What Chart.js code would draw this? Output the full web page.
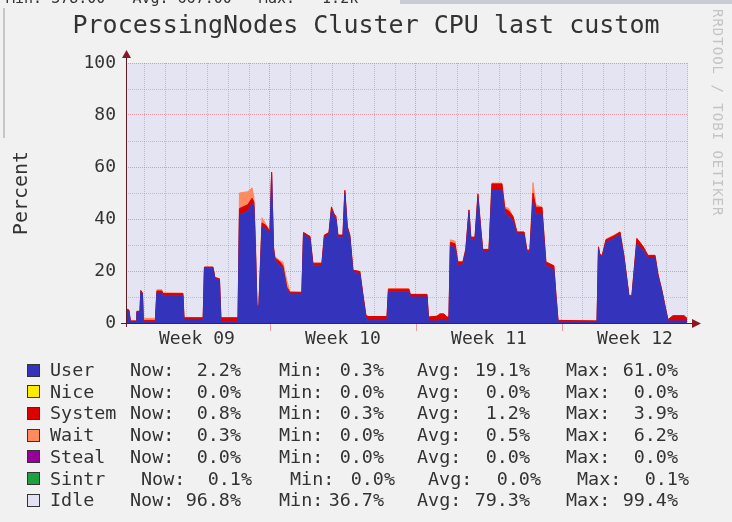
<!DOCTYPE html>
<html>
<head>
<meta charset="utf-8">
<script src="https://cdn.jsdelivr.net/npm/chart.js@4.4.0/dist/chart.umd.min.js"></script>
<style>
html, body { margin: 0; padding: 0; background: #f1f1f1; }
#wrap { position: relative; width: 732px; height: 522px; overflow: hidden; background: #f1f1f1; }
#wrap canvas { position: absolute; left: 0; top: 0; }
.mono { position: absolute; font-family: "DejaVu Sans Mono", monospace; color: #333; white-space: pre; }
.row { font-size: 18.4px; line-height: 22px; height: 22px; }
.stat { display: flex; justify-content: space-between; }
.box { position: absolute; width: 11px; height: 11px; border: 1px solid #333; }
#topstrip { font-size: 15px; top: -11px; line-height: 18px; }
#graybar { position: absolute; left: 400px; top: 0; width: 332px; height: 4px; background: #c9ccd5; }
#frame { position: absolute; left: 3px; top: 8px; width: 2px; height: 130px; background: #c6c6c6; }
#mark { position: absolute; left: 710px; top: 9px; writing-mode: vertical-rl; font-family: "DejaVu Sans Mono", monospace;
        font-size: 14px; letter-spacing: 1px; color: #c4c4c4; white-space: pre; }
</style>
</head>
<body>
<div id="wrap">
  <canvas id="cpu" width="732" height="522"></canvas>
  <div id="graybar"></div>
  <div id="frame"></div>
  <div id="mark">RRDTOOL / TOBI OETIKER</div>
  <div id="legend"></div>
</div>
<script>
// time in days since start of Week 09
const days = [0.10, 0.24, 0.31, 0.58, 0.62, 0.77, 0.81, 0.89, 0.93, 1.51,
  1.58, 1.82, 1.87, 2.83, 2.88, 3.80, 3.86, 4.27, 4.36, 4.58,
  4.65, 5.47, 5.54, 5.94, 6.14, 6.23, 6.30, 6.38, 6.47, 6.62,
  6.81, 7.00, 7.08, 7.17, 7.24, 7.48, 7.62, 7.81, 7.96, 8.53,
  8.61, 8.92, 9.06, 9.49, 9.61, 9.83, 9.95, 10.07, 10.16, 10.26,
  10.50, 10.59, 10.71, 10.83, 10.98, 11.31, 11.46, 11.60, 11.70, 12.61,
  12.68, 13.66, 13.73, 14.53, 14.60, 15.00, 15.15, 15.34, 15.48, 15.58,
  15.65, 15.87, 16.01, 16.25, 16.39, 16.54, 16.63, 16.83, 16.97, 17.11,
  17.20, 17.50, 17.64, 18.12, 18.26, 18.46, 18.65, 18.84, 19.18, 19.32,
  19.46, 19.61, 19.75, 20.04, 20.23, 20.61, 20.71, 20.81, 22.68, 22.75,
  22.80, 22.92, 23.11, 23.49, 23.78, 23.97, 24.21, 24.35, 24.59, 24.88,
  25.12, 25.46, 25.60, 25.79, 25.94, 26.08, 26.32, 26.85, 26.99];

const userCpu = [5, 4.5, 0.5, 0.5, 4, 4, 12, 11, 0.5, 0.5,
  11.5, 11.5, 10.5, 10.5, 1.2, 1.2, 21, 21, 17, 16.5,
  0.5, 0.5, 41.5, 43, 46, 45, 29, 6, 6, 37,
  36, 34, 57, 28, 24, 22, 21, 13, 11, 11,
  34, 32.5, 22, 22, 33, 34, 43.5, 41, 40, 33,
  33, 50, 36, 33, 19.5, 19, 10, 2, 1, 1,
  12, 12, 10, 10, 0.8, 0.8, 1, 1, 0.8, 0.8,
  29.5, 29, 22, 22.5, 27.5, 42.5, 32, 32, 48, 35,
  27.5, 27.5, 51, 51, 42, 41, 39, 34, 34, 27,
  27, 47, 42, 42, 22, 20.5, 10, 0.5, 0.5, 28.5,
  26, 25, 31, 32.5, 34, 25, 10, 10, 30.5, 28,
  25, 25, 18, 12, 6, 0.8, 0.8, 0.8, 0.8];

const systemCpu = [0.5, 0.5, 0.3, 0.3, 0.5, 0.5, 0.5, 0.5, 0.5, 0.5,
  0.8, 0.8, 0.8, 0.8, 0.8, 0.8, 0.5, 0.5, 0.5, 0.5,
  1.5, 1.5, 2.5, 2.5, 2, 1.5, 1, 0.5, 0.5, 1.5,
  1.5, 1, 1, 1, 1, 1.5, 1, 0.8, 0.8, 0.8,
  0.8, 0.8, 1, 1, 0.8, 0.8, 1, 1, 1, 0.8,
  0.8, 1, 1, 0.8, 0.8, 0.8, 0.8, 1, 1.5, 1.5,
  1, 1, 1, 1, 1.5, 1.8, 2.5, 2.5, 1.5, 1.5,
  1.5, 1.5, 1.5, 1, 1, 1, 1, 1, 1.5, 1,
  0.8, 0.8, 2.5, 2.5, 2, 2, 2, 1, 1, 1,
  1, 3, 2.5, 2.5, 1.5, 1.5, 1, 0.5, 0.3, 0.8,
  0.8, 0.8, 1, 1, 1, 0.8, 0.5, 0.5, 2, 1.5,
  1, 1, 0.8, 0.5, 0.5, 0.5, 2, 2, 1];

const waitCpu = [0, 0, 0, 0, 0, 0, 0, 0, 0.8, 0.8,
  0.5, 0.5, 0.3, 0.2, 0.2, 0, 0, 0, 0, 0,
  0, 0, 6, 5, 4, 2, 5, 0.5, 0.5, 2,
  0.5, 0.5, 0, 0.5, 0.5, 0.5, 1.5, 2.5, 0.3, 0,
  0, 0, 0, 0, 0, 0, 0.3, 0, 0, 0,
  0, 0, 0, 0, 0, 0, 0, 0, 0, 0,
  0.2, 0.2, 0, 0, 0, 0, 0, 0, 0, 0,
  1, 1, 0, 0, 0, 0, 0, 0, 0.5, 0,
  0, 0, 0.3, 0.3, 0.7, 1, 0, 0, 0, 0,
  0, 4, 1, 0, 0, 0, 0, 0, 0, 0,
  0, 0, 0.3, 0.3, 0, 0, 0, 0, 0, 0,
  0, 0, 0, 0, 0, 0, 0, 0, 0];

const weekLabels = ['Week 09', 'Week 10', 'Week 11', 'Week 12'];
const yMax = 100;

// legend table
const legendNames = ['User', 'Nice', 'System', 'Wait', 'Steal', 'Sintr', 'Idle'];
const legendColors = ['#3333bb', '#ffea00', '#dd0000', '#ff8a60', '#990099', '#1fa040', '#e2e2f2'];
const nowVals = [2.2, 0.0, 0.8, 0.3, 0.0, 0.1, 96.8];
const minVals = [0.3, 0.0, 0.3, 0.0, 0.0, 0.0, 36.7];
const avgVals = [19.1, 0.0, 1.2, 0.5, 0.0, 0.0, 79.3];
const maxVals = [61.0, 0.0, 3.9, 6.2, 0.0, 0.1, 99.4];

const monoFont = '"DejaVu Sans Mono", monospace';
const minorGrid = 'rgba(150,150,160,0.5)';
const majorGrid = 'rgba(225,90,100,0.55)';

function series(label, values, color, fill) {
    return {
        label: label,
        data: days.map((d, i) => ({x: d, y: values[i]})),
        backgroundColor: color,
        borderColor: color,
        borderWidth: 1,
        pointRadius: 0,
        tension: 0,
        fill: fill
    };
}

const plotBg = {
    id: 'plotBg',
    beforeDraw(chart) {
        const a = chart.chartArea, ctx = chart.ctx;
        ctx.save();
        ctx.fillStyle = '#e4e4f3';
        ctx.fillRect(a.left, a.top, a.right - a.left, a.bottom - a.top);
        ctx.restore();
    }
};

// rrdtool style axes with arrow heads
const arrowAxes = {
    id: 'arrowAxes',
    afterDatasetsDraw(chart) {
        const a = chart.chartArea, ctx = chart.ctx, x = chart.scales.x;
        ctx.save();
        // small week ticks under the axis
        ctx.strokeStyle = majorGrid;
        ctx.lineWidth = 1;
        for (let w = 1; w < 4; w++) {
            const px = Math.round(x.getPixelForValue(w * 7)) + 0.5;
            ctx.beginPath(); ctx.moveTo(px, a.bottom); ctx.lineTo(px, a.bottom + 8); ctx.stroke();
        }
        ctx.strokeStyle = '#5a1a2a';
        ctx.beginPath();
        ctx.moveTo(a.left + 0.5, a.bottom + 4);
        ctx.lineTo(a.left + 0.5, a.top - 6);
        ctx.moveTo(a.left - 5, a.bottom + 0.5);
        ctx.lineTo(a.right + 5, a.bottom + 0.5);
        ctx.stroke();
        ctx.fillStyle = '#8a1525';
        ctx.beginPath();
        ctx.moveTo(a.left - 4, a.top - 5);
        ctx.lineTo(a.left + 5, a.top - 5);
        ctx.lineTo(a.left + 0.5, a.top - 13);
        ctx.closePath(); ctx.fill();
        ctx.beginPath();
        ctx.moveTo(a.right + 4, a.bottom - 4);
        ctx.lineTo(a.right + 4, a.bottom + 5);
        ctx.lineTo(a.right + 13, a.bottom + 0.5);
        ctx.closePath(); ctx.fill();
        ctx.restore();
    }
};

const halfDays = [];
for (let v = 0.5; v <= 27; v += 0.5) halfDays.push(v);

new Chart(document.getElementById('cpu').getContext('2d'), {
    type: 'line',
    data: {
        datasets: [
            series('User', userCpu, '#3333bb', 'origin'),
            series('System', systemCpu, '#dd0000', '-1'),
            series('Wait', waitCpu, '#ff8a60', '-1')
        ]
    },
    options: {
        responsive: false,
        animation: false,
        devicePixelRatio: 1,
        layout: {padding: {left: 0, right: 0, top: 0, bottom: 169}},
        plugins: {
            legend: {display: false},
            tooltip: {enabled: false},
            title: {
                display: true,
                text: 'ProcessingNodes Cluster CPU last custom',
                color: '#333',
                font: {family: monoFont, size: 25, weight: 'normal'},
                padding: {top: 11, bottom: 22}
            }
        },
        scales: {
            x: {
                type: 'linear',
                min: 0.1,
                max: 27.04,
                afterFit: s => { s.height = 30; },
                afterBuildTicks: s => { s.ticks = halfDays.map(v => ({value: v})); },
                ticks: {
                    autoSkip: false,
                    maxRotation: 0,
                    padding: 6,
                    color: '#333',
                    font: {family: monoFont, size: 18},
                    callback: v => ((v - 3.5) % 7 === 0 ? weekLabels[(v - 3.5) / 7] : '')
                },
                grid: {
                    drawTicks: false,
                    color: c => {
                        const v = c.tick.value;
                        if (v % 7 === 0) return majorGrid;
                        if (v % 1 === 0) return minorGrid;
                        return 'rgba(0,0,0,0)';
                    }
                },
                border: {display: false, dash: [1, 1]}
            },
            y: {
                stacked: true,
                min: 0,
                max: yMax,
                afterFit: s => { s.width = 126; },
                ticks: {
                    stepSize: 5,
                    padding: 10,
                    color: '#333',
                    font: {family: monoFont, size: 18},
                    callback: v => (v % 20 === 0 ? v : '')
                },
                grid: {
                    drawTicks: false,
                    color: c => (c.tick.value % 20 === 0 ? majorGrid : minorGrid)
                },
                border: {display: false, dash: [1, 1]},
                title: {
                    display: true,
                    text: 'Percent',
                    color: '#333',
                    font: {family: monoFont, size: 20},
                    padding: {top: 10, bottom: 0}
                }
            },
            // empty right margin so the title centres on the whole image
            side: {
                position: 'right',
                display: true,
                afterFit: s => { s.width = 44; },
                ticks: {display: false},
                grid: {display: false},
                border: {display: false}
            }
        }
    },
    plugins: [plotBg, arrowAxes]
});

// legend below the graph, rrdtool GPRINT style
const legend = document.getElementById('legend');
const statCols = [[130, 241, 'Now:', nowVals], [279, 384, 'Min:', minVals], [417, 530, 'Avg:', avgVals], [566, 678, 'Max:', maxVals]];
const rowShift = [0, 0, 0, 0, 0, 11, 0];
legendNames.forEach((name, i) => {
    const cy = 370 + i * 21.7;
    const box = document.createElement('div');
    box.className = 'box';
    box.style.left = '27px';
    box.style.top = (cy - 6.5) + 'px';
    box.style.background = legendColors[i];
    legend.appendChild(box);

    const lbl = document.createElement('div');
    lbl.className = 'mono row';
    lbl.style.left = '50px';
    lbl.style.top = (cy - 11) + 'px';
    lbl.textContent = name;
    legend.appendChild(lbl);

    statCols.forEach(col => {
        const s = document.createElement('div');
        s.className = 'mono row stat';
        s.style.left = (col[0] + rowShift[i]) + 'px';
        s.style.width = (col[1] - col[0]) + 'px';
        s.style.top = (cy - 11) + 'px';
        const a = document.createElement('span');
        a.textContent = col[2];
        const b = document.createElement('span');
        b.textContent = col[3][i].toFixed(1) + '%';
        s.appendChild(a);
        s.appendChild(b);
        legend.appendChild(s);
    });
});

// cut-off legend line of the graph above
const topStrip = document.createElement('div');
topStrip.className = 'mono';
topStrip.id = 'topstrip';
topStrip.style.left = '6px';
topStrip.textContent = 'Min: 378.00   Avg: 667.00   Max:   1.2k';
legend.appendChild(topStrip);
</script>
</body>
</html>
